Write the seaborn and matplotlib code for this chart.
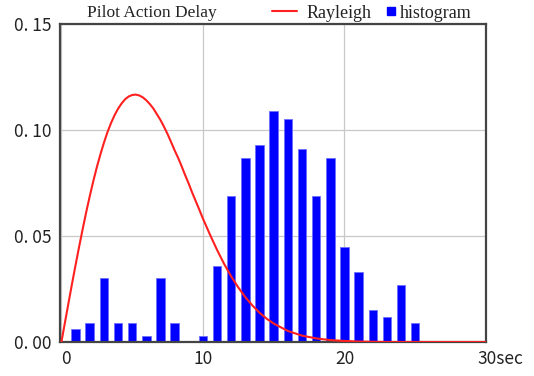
import matplotlib
matplotlib.use("Agg")
import matplotlib.pyplot as plt
import matplotlib.transforms as mtransforms
import seaborn as sns
import pandas as pd
from matplotlib.lines import Line2D

# histogram bins (sec) and relative frequencies
hist_x = list(range(1, 26))
hist_y = [0.006, 0.009, 0.030, 0.009, 0.009, 0.003, 0.030, 0.009, 0.0, 0.003,
          0.036, 0.069, 0.087, 0.093, 0.109, 0.105, 0.091, 0.069, 0.087, 0.045,
          0.033, 0.015, 0.012, 0.027, 0.009]

# Rayleigh curve
curve_x = [0, 0.25, 0.5, 0.75, 1, 1.25, 1.5, 1.75, 2, 2.25, 2.5, 2.75, 3, 3.25,
           3.5, 3.75, 4, 4.25, 4.5, 4.75, 5, 5.25, 5.5, 5.75, 6, 6.25, 6.5, 6.75,
           7, 7.25, 7.5, 7.75, 8, 8.25, 8.5, 8.75, 9, 9.25, 9.5, 9.75, 10, 10.5,
           11, 11.5, 12, 12.5, 13, 13.5, 14, 14.5, 15, 16, 17, 18, 19, 20, 21,
           22, 23, 24, 25, 26, 27, 28, 29, 30]
curve_y = [0.0, 0.0092, 0.0184, 0.0275, 0.0363, 0.0449, 0.0532, 0.0612, 0.0687,
           0.0758, 0.0824, 0.0884, 0.0939, 0.0989, 0.1032, 0.1069, 0.1100,
           0.1125, 0.1145, 0.1158, 0.1165, 0.1167, 0.1163, 0.1154, 0.1140,
           0.1122, 0.1101, 0.1074, 0.1047, 0.1015, 0.0981, 0.0943, 0.0904,
           0.0868, 0.0828, 0.0786, 0.0746, 0.0703, 0.0663, 0.0623, 0.0582,
           0.0506, 0.0434, 0.0368, 0.0309, 0.0257, 0.0211, 0.0172, 0.0138,
           0.0110, 0.0087, 0.0052, 0.0030, 0.0017, 0.0009, 0.0005, 0.0002,
           0.0001, 0.0, 0.0, 0.0, 0.0, 0.0, 0.0, 0.0, 0.0]

xticks = [0, 10, 20, 30]
xtick_labels = ["0", "10", "20", "30sec"]
yticks = [0.0, 0.05, 0.10, 0.15]
ytick_labels = ["0. 00", "0. 05", "0. 10", "0. 15"]

title = "Pilot Action Delay"
line_label = "Rayleigh"
bar_label = "histogram"

sns.set_style("white")
plt.rcParams["font.family"] = ["Noto Sans CJK JP", "DejaVu Sans"]

fig = plt.figure(figsize=(5.34, 3.76), dpi=100)
ax = fig.add_axes([60 / 534, 1 - 342 / 376, 426 / 534, 318 / 376])

hist_df = pd.DataFrame({"t": hist_x, "p": hist_y})
curve_df = pd.DataFrame({"t": curve_x, "p": curve_y})

sns.barplot(data=hist_df, x="t", y="p", native_scale=True, width=0.6,
            color="#0000ff", saturation=1, edgecolor="#6f6fff", linewidth=0.6,
            ax=ax, zorder=2)
sns.lineplot(data=curve_df, x="t", y="p", color="#ff2020", linewidth=1.5,
             ax=ax, zorder=3)

ax.set_xlim(-0.1, 30)
ax.set_ylim(0, 0.15)
ax.set_xticks(xticks)
ax.set_xticklabels(xtick_labels)
ax.set_yticks(yticks)
ax.set_yticklabels(ytick_labels)
ax.set_xlabel("")
ax.set_ylabel("")
ax.tick_params(axis="both", length=0, labelsize=12.5, colors="#222222")
ax.tick_params(axis="y", pad=6)
ax.tick_params(axis="x", pad=6)
ax.grid(True, color="#c8c8c8", linewidth=0.9)
ax.set_axisbelow(True)
for s in ax.spines.values():
    s.set_color("#444444")
    s.set_linewidth(1.6)

# shift first and last x tick labels like the reference
xl = ax.get_xticklabels()
xl[0].set_transform(xl[0].get_transform() +
                    mtransforms.ScaledTranslation(5 / 100, 0, fig.dpi_scale_trans))
xl[-1].set_horizontalalignment("left")
xl[-1].set_transform(xl[-1].get_transform() +
                     mtransforms.ScaledTranslation(-9 / 100, 0, fig.dpi_scale_trans))

fig.text(152 / 534, 1 - 13 / 376, title, ha="center", va="center",
         family="Liberation Serif", fontsize=12.5, color="#222222")

prop = {"family": "Liberation Serif", "size": 13}
leg1 = fig.legend([Line2D([0], [0], color="#ff2020", lw=1.5)], [line_label],
                  frameon=False, loc="center left",
                  bbox_to_anchor=(272 / 534, 1 - 13 / 376), prop=prop,
                  handlelength=1.38, handletextpad=0.55,
                  borderaxespad=0, borderpad=0)
leg2 = fig.legend([Line2D([0], [0], marker="s", color="#0000ff", lw=0,
                          markersize=6)], [bar_label],
                  frameon=False, loc="center left",
                  bbox_to_anchor=(386 / 534, 1 - 13 / 376), prop=prop,
                  handlelength=0.6, handletextpad=0.18,
                  borderaxespad=0, borderpad=0)
for lg in (leg1, leg2):
    for t in lg.get_texts():
        t.set_color("#222222")

fig.savefig("out.png", dpi=100)
